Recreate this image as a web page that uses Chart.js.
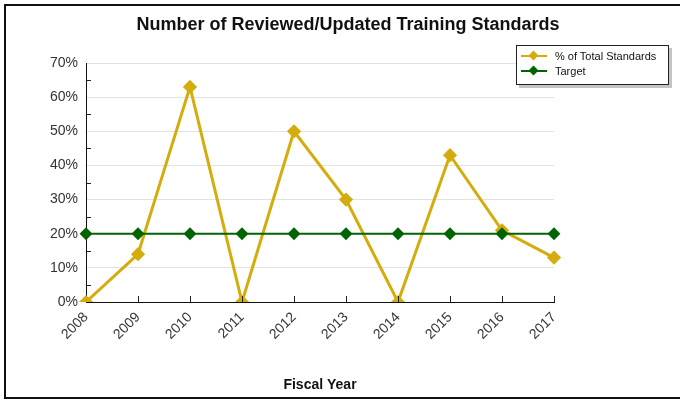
<!DOCTYPE html>
<html>
<head>
<meta charset="utf-8">
<script src="https://cdn.jsdelivr.net/npm/chart.js@4"></script>
<style>
  html, body { margin: 0; padding: 0; background: #fff; overflow: hidden; }
  #wrap { position: relative; width: 680px; height: 400px; font-family: "Liberation Sans", Arial, sans-serif; }
  #frame { position: absolute; left: 4px; top: 4px; width: 720px; height: 395px; border: 2px solid #111; box-sizing: border-box; }
  #title { position: absolute; left: 0; top: 14px; width: 696px; text-align: center; font-weight: bold; font-size: 18px; color: #111; }
  #legend { position: absolute; left: 516px; top: 45px; width: 153px; height: 40px; border: 1px solid #222; background: #fff;
            box-shadow: 3px 3px 0 #c4c4c4; box-sizing: border-box; font-size: 11px; color: #111; }
  .item { position: absolute; left: 4px; height: 14px; display: flex; align-items: center; }
  .sym { position: relative; width: 26px; height: 14px; margin-right: 8px; }
  .sym .ln { position: absolute; left: 0; right: 0; top: 6px; height: 2px; }
  .sym .dm { position: absolute; left: 9px; top: 3px; width: 7px; height: 7px; transform: rotate(45deg); }
  canvas { position: absolute; left: 0; top: 0; }
</style>
</head>
<body>
<div id="wrap">
  <canvas id="c" width="680" height="400"></canvas>
  <div id="frame"></div>
  <div id="title">Number of Reviewed/Updated Training Standards</div>
  <div id="legend">
    <div class="item" style="top:3px"><div class="sym"><div class="ln" style="background:#d4ac0d"></div><div class="dm" style="background:#d4ac0d"></div></div>% of Total Standards</div>
    <div class="item" style="top:18px"><div class="sym"><div class="ln" style="background:#006400"></div><div class="dm" style="background:#006400"></div></div>Target</div>
  </div>
</div>
<script>
const years = ['2008', '2009', '2010', '2011', '2012', '2013', '2014', '2015', '2016', '2017'];
const pctTotal = [0, 14, 63, 0, 50, 30, 0, 43, 21, 13];
const target = [20, 20, 20, 20, 20, 20, 20, 20, 20, 20];
const yTicks = [0, 10, 20, 30, 40, 50, 60, 70];
const minorStep = 5;

const gold = '#d4ac0d';
const green = '#006400';

// small inward tick marks, like the original chart
const innerTicks = {
  id: 'innerTicks',
  afterDatasetsDraw(chart) {
    const { ctx, scales: { x, y } } = chart;
    ctx.save();
    ctx.strokeStyle = '#222';
    ctx.lineWidth = 1;
    ctx.beginPath();
    for (let i = 1; i < years.length; i++) {
      const px = Math.round(x.getPixelForValue(i)) + 0.5;
      ctx.moveTo(px, y.bottom);
      ctx.lineTo(px, y.bottom - 6);
    }
    for (let v = minorStep; v < yTicks[yTicks.length - 1]; v += minorStep * 2) {
      const py = Math.round(y.getPixelForValue(v)) + 0.5;
      ctx.moveTo(x.left, py);
      ctx.lineTo(x.left + 5, py);
    }
    ctx.stroke();
    ctx.restore();
  }
};

new Chart(document.getElementById('c'), {
  type: 'line',
  data: {
    labels: years,
    datasets: [
      {
        label: 'Target',
        data: target,
        borderColor: green,
        backgroundColor: green,
        borderWidth: 2,
        pointStyle: 'rectRot',
        pointRadius: 5,
        order: 1
      },
      {
        label: '% of Total Standards',
        data: pctTotal,
        borderColor: gold,
        backgroundColor: gold,
        borderWidth: 3,
        pointStyle: 'rectRot',
        pointRadius: 5,
        order: 2
      }
    ]
  },
  options: {
    responsive: false,
    animation: false,
    layout: { padding: { left: 0, top: 63, right: 126, bottom: 0 } },
    plugins: { legend: { display: false }, title: { display: false }, tooltip: { enabled: false } },
    scales: {
      x: {
        afterFit: (s) => { s.height = 98; },
        grid: { display: false, drawTicks: false },
        border: { color: '#111', width: 1 },
        ticks: {
          minRotation: 45, maxRotation: 45, padding: 7,
          color: '#333', font: { family: 'Liberation Sans', size: 14 }
        },
        title: {
          display: true, text: 'Fiscal Year', color: '#111',
          font: { family: 'Liberation Sans', size: 14, weight: 'bold' },
          padding: { top: 0, bottom: 6 }
        }
      },
      y: {
        min: 0, max: 70,
        afterFit: (s) => { s.width = 86; },
        afterBuildTicks: (s) => { s.ticks = yTicks.map(v => ({ value: v })); },
        grid: { color: '#e2e2e2', drawTicks: false },
        border: { color: '#111', width: 1 },
        ticks: {
          padding: 8, color: '#333',
          font: { family: 'Liberation Sans', size: 14 },
          callback: (v) => v + '%'
        }
      }
    }
  },
  plugins: [innerTicks]
});
</script>
</body>
</html>
